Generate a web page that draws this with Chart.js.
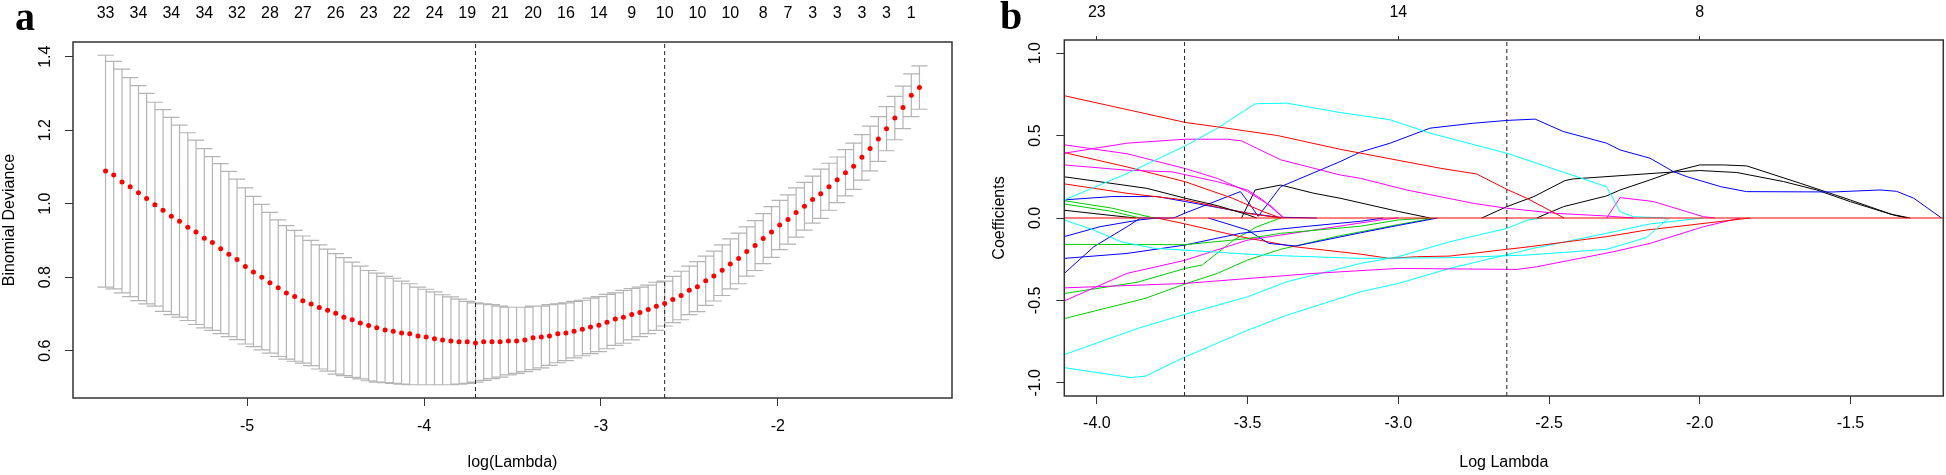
<!DOCTYPE html>
<html>
<head>
<meta charset="utf-8">
<script src="https://cdn.jsdelivr.net/npm/chart.js@4.4.1/dist/chart.umd.min.js"></script>
<style>
html, body { margin: 0; padding: 0; background: #fff; }
#wrap { position: relative; width: 1946px; height: 475px; overflow: hidden; }
canvas { position: absolute; top: 0; }
#cvA { left: 0; }
#cvB { left: 975px; }
.tag { position: absolute; font: bold 40px "Liberation Serif", serif; color: #000; line-height: 1; }
</style>
</head>
<body>
<div id="wrap">
  <canvas id="cvA" width="975" height="475"></canvas>
  <canvas id="cvB" width="971" height="475"></canvas>
  <div class="tag" style="left:15px;top:-3px">a</div>
  <div class="tag" style="left:1000px;top:-4px">b</div>
</div>
<script>
// ---- panel a: cross-validated binomial deviance ----
const logLambda = [
  -5.800,-5.754,-5.707,-5.661,-5.614,-5.568,-5.521,-5.475,-5.428,-5.382,
  -5.335,-5.289,-5.242,-5.196,-5.149,-5.103,-5.057,-5.010,-4.964,-4.917,
  -4.871,-4.824,-4.778,-4.731,-4.685,-4.638,-4.592,-4.545,-4.499,-4.453,
  -4.406,-4.360,-4.313,-4.267,-4.220,-4.174,-4.127,-4.081,-4.034,-3.988,
  -3.941,-3.895,-3.848,-3.802,-3.756,-3.709,-3.663,-3.616,-3.570,-3.523,
  -3.477,-3.430,-3.384,-3.337,-3.291,-3.244,-3.198,-3.152,-3.105,-3.059,
  -3.012,-2.966,-2.919,-2.873,-2.826,-2.780,-2.733,-2.687,-2.640,-2.594,
  -2.547,-2.501,-2.455,-2.408,-2.362,-2.315,-2.269,-2.222,-2.176,-2.129,
  -2.083,-2.036,-1.990,-1.943,-1.897,-1.850,-1.804,-1.758,-1.711,-1.665,
  -1.618,-1.572,-1.525,-1.479,-1.432,-1.386,-1.339,-1.293,-1.246,-1.200
];
const cvm = [
  1.089,1.078,1.059,1.046,1.030,1.014,0.997,0.982,0.966,0.952,
  0.936,0.923,0.906,0.894,0.877,0.862,0.848,0.829,0.814,0.800,
  0.785,0.771,0.757,0.747,0.736,0.727,0.717,0.710,0.702,0.691,
  0.684,0.675,0.668,0.662,0.656,0.653,0.648,0.646,0.640,0.637,
  0.632,0.629,0.626,0.624,0.624,0.621,0.624,0.624,0.624,0.626,
  0.626,0.629,0.635,0.637,0.640,0.646,0.648,0.653,0.658,0.664,
  0.669,0.677,0.686,0.691,0.698,0.704,0.712,0.721,0.728,0.739,
  0.750,0.764,0.774,0.790,0.803,0.819,0.836,0.851,0.870,0.886,
  0.905,0.923,0.942,0.957,0.976,0.993,1.011,1.027,1.046,1.065,
  1.084,1.102,1.126,1.150,1.176,1.204,1.233,1.262,1.295,1.316
];
const cvup = [
  1.404,1.387,1.366,1.343,1.321,1.300,1.276,1.256,1.235,1.214,
  1.193,1.173,1.150,1.128,1.109,1.088,1.067,1.043,1.020,0.998,
  0.976,0.956,0.940,0.927,0.912,0.900,0.888,0.876,0.864,0.853,
  0.841,0.830,0.818,0.811,0.802,0.797,0.789,0.782,0.773,0.767,
  0.760,0.752,0.746,0.740,0.734,0.730,0.727,0.725,0.721,0.718,
  0.718,0.718,0.721,0.721,0.725,0.727,0.730,0.734,0.737,0.743,
  0.747,0.753,0.757,0.764,0.769,0.773,0.778,0.786,0.789,0.802,
  0.816,0.830,0.842,0.857,0.871,0.888,0.904,0.920,0.937,0.954,
  0.973,0.992,1.009,1.024,1.043,1.058,1.075,1.094,1.110,1.127,
  1.147,1.165,1.188,1.211,1.237,1.264,1.292,1.320,1.353,1.375
];
const cvlo = [
  0.773,0.768,0.757,0.747,0.736,0.727,0.721,0.707,0.698,0.691,
  0.682,0.671,0.662,0.655,0.646,0.638,0.630,0.618,0.611,0.602,
  0.593,0.584,0.577,0.571,0.566,0.559,0.550,0.544,0.536,0.532,
  0.527,0.523,0.518,0.514,0.513,0.511,0.509,0.507,0.507,0.507,
  0.507,0.507,0.507,0.509,0.511,0.514,0.519,0.524,0.528,0.534,
  0.538,0.543,0.548,0.553,0.560,0.567,0.573,0.580,0.586,0.592,
  0.597,0.605,0.614,0.620,0.629,0.638,0.646,0.655,0.667,0.676,
  0.684,0.698,0.706,0.723,0.735,0.750,0.768,0.782,0.803,0.818,
  0.837,0.854,0.875,0.890,0.909,0.928,0.947,0.960,0.982,1.003,
  1.021,1.039,1.064,1.089,1.115,1.144,1.174,1.204,1.237,1.257
];
// non-zero counts printed along the top
const nzAt = [-5.800,-5.614,-5.428,-5.242,-5.057,-4.871,-4.685,-4.499,-4.313,-4.127,-3.941,-3.756,-3.570,
  -3.384,-3.198,-3.012,-2.826,-2.640,-2.455,-2.269,-2.083,-1.943,-1.804,-1.665,-1.525,-1.386,-1.246];
const nzLabels = ['33','34','34','34','32','28','27','26','23','22','24','19','21',
  '20','16','14','9','10','10','10','8','7','3','3','3','3','1'];
const lambdaMin = -3.709;
const lambda1se = -2.640;
const devTicks = [0.6, 0.8, 1.0, 1.2, 1.4];
const devTickLabels = ['0.6', '0.8', '1.0', '1.2', '1.4'];
const logTicksA = [-5, -4, -3, -2];
const logTickLabelsA = ['-5', '-4', '-3', '-2'];

// ---- panel b: coefficient paths, [log lambda, coefficient] knots ----
const coefTicks = [-1, -0.5, 0, 0.5, 1];
const coefTickLabels = ['-1.0', '-0.5', '0.0', '0.5', '1.0'];
const logTicksB = [-4, -3.5, -3, -2.5, -2, -1.5];
const logTickLabelsB = ['-4.0', '-3.5', '-3.0', '-2.5', '-2.0', '-1.5'];
const dfAt = [-4, -3, -2];
const dfLabels = ['23', '14', '8'];

const pRed1 = [[-4.108,0.742],[-3.707,0.580],[-3.60,0.553],[-3.40,0.500],[-3.193,0.417],[-3.00,0.350],[-2.861,0.302],[-2.740,0.267],[-2.640,0.174],[-2.574,0.120],[-2.450,0]];
const pCyan1 = [[-4.108,0.109],[-3.90,0.27],[-3.707,0.437],[-3.60,0.545],[-3.475,0.693],[-3.37,0.697],[-3.193,0.64],[-3.027,0.596],[-2.895,0.515],[-2.64,0.393],[-2.508,0.312],[-2.309,0.19],[-2.265,0.039],[-2.22,0.008],[-2.11,0]];
const pMagA = [[-4.108,0.393],[-3.90,0.454],[-3.707,0.478],[-3.569,0.478],[-3.52,0.468],[-3.39,0.353],[-3.193,0.261],[-3.126,0.241],[-2.972,0.17],[-2.751,0.089],[-2.64,0.059],[-2.475,0.028],[-2.309,0.012],[-2.22,0]];
const pMagB = [[-4.108,0.444],[-3.90,0.39],[-3.707,0.30],[-3.60,0.24],[-3.50,0.16],[-3.42,0.07],[-3.38,0]];
const pMagC = [[-4.108,0.322],[-3.90,0.29],[-3.75,0.28],[-3.60,0.22],[-3.50,0.17],[-3.45,0.11],[-3.38,0]];
const pRed2 = [[-4.108,0.397],[-3.90,0.31],[-3.707,0.22],[-3.55,0.12],[-3.45,0.04],[-3.39,0]];
const pBlack1 = [[-4.108,0.25],[-3.834,0.18],[-3.707,0.12],[-3.60,0.075],[-3.50,0.02],[-3.47,0]];
const pRed3 = [[-4.108,0.207],[-3.90,0.15],[-3.707,0.109],[-3.50,0.028],[-3.39,0]];
const pBlue1 = [[-4.108,0.11],[-3.95,0.13],[-3.80,0.13],[-3.707,0.10],[-3.50,0.03],[-3.40,0.005],[-3.27,0]];
const pGreen1 = [[-4.108,0.105],[-3.95,0.06],[-3.81,0]];
const pGreen2 = [[-4.108,0.085],[-3.95,0.04],[-3.856,0]];
const pBlack2 = [[-4.108,0.047],[-3.95,0.015],[-3.87,0]];
const pCyan2 = [[-4.108,-0.012],[-4.01,-0.073],[-3.92,-0.144],[-3.81,-0.184],[-3.707,-0.195],[-3.45,-0.225],[-3.126,-0.245],[-2.829,-0.241],[-2.574,-0.225],[-2.309,-0.19],[-2.176,-0.118],[-2.11,-0.012],[-2.10,0]];
const pBlue2 = [[-4.108,-0.113],[-3.99,-0.053],[-3.86,-0.012],[-3.80,0]];
const pGreen3 = [[-4.108,-0.16],[-3.707,-0.162],[-3.50,-0.125],[-3.39,-0.093],[-3.126,-0.05],[-3.00,-0.012],[-2.89,0]];
const pBlue3 = [[-4.108,-0.245],[-3.90,-0.215],[-3.707,-0.164],[-3.524,-0.093],[-3.30,-0.05],[-3.126,-0.02],[-3.05,0]];
const pBlue4 = [[-4.108,-0.336],[-4.01,-0.174],[-3.90,-0.053],[-3.855,0],[-3.745,0],[-3.707,0.03],[-3.524,0.16],[-3.495,0.09],[-3.465,0.01],[-3.39,0.19],[-3.193,0.342],[-3.126,0.40],[-3.027,0.454],[-2.895,0.545],[-2.751,0.575],[-2.64,0.592],[-2.546,0.60],[-2.453,0.525],[-2.309,0.454],[-2.2645,0.413],[-2.165,0.363],[-2.088,0.282],[-2.043,0.251],[-1.93,0.19],[-1.845,0.16],[-1.557,0.158],[-1.402,0.17],[-1.347,0.162],[-1.29,0.12],[-1.198,0]];
const pBlue6 = [[-3.63,0],[-3.50,-0.073],[-3.43,-0.154],[-3.34,-0.17],[-3.126,-0.09],[-3.00,-0.045],[-2.87,0]];
const pRed4 = [[-3.80,0],[-3.707,-0.036],[-3.524,-0.113],[-3.346,-0.174],[-3.126,-0.219],[-3.03,-0.245],[-2.94,-0.235],[-2.829,-0.231],[-2.64,-0.19],[-2.563,-0.174],[-2.309,-0.113],[-2.176,-0.073],[-1.833,0]];
const pMagD = [[-4.108,-0.424],[-3.707,-0.397],[-3.28,-0.336],[-3.00,-0.306],[-2.607,-0.312],[-2.541,-0.296],[-2.287,-0.205],[-2.165,-0.154],[-1.988,-0.053],[-1.866,0]];
const pMagE = [[-4.108,-0.503],[-3.90,-0.336],[-3.707,-0.256],[-3.50,-0.134],[-3.28,-0.073],[-3.06,-0.012],[-3.00,0]];
const pGreen4 = [[-4.108,-0.458],[-3.866,-0.39],[-3.707,-0.306],[-3.65,-0.285],[-3.546,-0.134],[-3.469,-0.053],[-3.39,0]];
const pGreen5 = [[-4.108,-0.61],[-3.84,-0.488],[-3.707,-0.40],[-3.60,-0.336],[-3.50,-0.255],[-3.39,-0.19],[-3.20,-0.11],[-3.00,-0.04],[-2.88,0]];
const pCyan3 = [[-4.108,-0.829],[-3.866,-0.671],[-3.707,-0.584],[-3.50,-0.478],[-3.37,-0.387],[-3.126,-0.276],[-3.00,-0.235],[-2.829,-0.144],[-2.64,-0.063],[-2.57,-0.012],[-2.52,0]];
const pCyan4 = [[-4.108,-0.908],[-3.889,-0.968],[-3.84,-0.96],[-3.707,-0.843],[-3.50,-0.681],[-3.37,-0.59],[-3.126,-0.448],[-3.00,-0.397],[-2.829,-0.306],[-2.552,-0.184],[-2.309,-0.093],[-2.165,-0.036],[-1.988,0]];
const pBlack3 = [[-3.52,0],[-3.475,0.17],[-3.39,0.20],[-3.28,0.15],[-3.193,0.12],[-3.00,0.04],[-2.895,0]];
const pBlack4 = [[-2.723,0],[-2.64,0.069],[-2.55,0.13],[-2.447,0.227],[-2.42,0.237],[-2.098,0.278],[-2.00,0.288],[-1.877,0.276],[-1.722,0.221],[-1.612,0.17],[-1.50,0.099],[-1.368,0.024],[-1.302,0]];
const pBlack5 = [[-2.541,0],[-2.452,0.069],[-2.309,0.134],[-2.264,0.17],[-2.165,0.231],[-2.087,0.282],[-2.00,0.322],[-1.921,0.322],[-1.844,0.316],[-1.667,0.211],[-1.50,0.109],[-1.357,0.018],[-1.313,0]];
const pMagF = [[-2.309,0],[-2.264,0.124],[-2.154,0.10],[-1.988,0.008],[-1.95,0]];
const pZero = [[-4.108,0],[-1.192,0]];

const BLACK = '#000000', RED = '#ff0000', GREEN = '#00cd00', BLUE = '#0000ff', CYAN = '#00ffff', MAGENTA = '#ff00ff';
const paths = [
  [pRed1, RED], [pCyan1, CYAN], [pMagA, MAGENTA], [pMagB, MAGENTA], [pMagC, MAGENTA],
  [pRed2, RED], [pBlack1, BLACK], [pRed3, RED], [pBlue1, BLUE], [pGreen1, GREEN],
  [pGreen2, GREEN], [pBlack2, BLACK], [pCyan2, CYAN], [pBlue2, BLUE], [pGreen3, GREEN],
  [pBlue3, BLUE], [pBlue4, BLUE], [pBlue6, BLUE], [pRed4, RED], [pMagD, MAGENTA],
  [pMagE, MAGENTA], [pGreen4, GREEN], [pGreen5, GREEN], [pCyan3, CYAN], [pCyan4, CYAN],
  [pBlack3, BLACK], [pBlack4, BLACK], [pBlack5, BLACK], [pMagF, MAGENTA]
];

Chart.defaults.font.family = '"Liberation Sans", Arial, sans-serif';
Chart.defaults.font.size = 16;
Chart.defaults.color = '#000';

const AXIS_COL = '#333333';
const capHalf = 0.046;

const frame = {
  id: 'frame',
  afterDraw(chart) {
    const { ctx, chartArea: a } = chart;
    ctx.save();
    ctx.strokeStyle = AXIS_COL;
    ctx.lineWidth = 1.5;
    ctx.strokeRect(a.left, a.top, a.right - a.left, a.bottom - a.top);
    ctx.restore();
  }
};

const errorBars = {
  id: 'errorBars',
  beforeDatasetsDraw(chart) {
    const { ctx, scales: { x, y } } = chart;
    ctx.save();
    ctx.strokeStyle = '#b4b4b4';
    ctx.lineWidth = 1.2;
    ctx.beginPath();
    logLambda.forEach((v, i) => {
      const px = x.getPixelForValue(v);
      const hw = x.getPixelForValue(v + capHalf) - px;
      const top = y.getPixelForValue(cvup[i]);
      const bot = y.getPixelForValue(cvlo[i]);
      ctx.moveTo(px, top); ctx.lineTo(px, bot);
      ctx.moveTo(px - hw, top); ctx.lineTo(px + hw, top);
      ctx.moveTo(px - hw, bot); ctx.lineTo(px + hw, bot);
    });
    ctx.stroke();
    ctx.restore();
  }
};

const fixedTicks = (values) => (scale) => { scale.ticks = values.map(v => ({ value: v })); };
const dashed = (xv, y0, y1) => ({
  data: [{ x: xv, y: y0 }, { x: xv, y: y1 }],
  showLine: true, pointRadius: 0, borderColor: '#222', borderWidth: 1, borderDash: [4, 3]
});

// ---- chart a ----
const xMinA = -5.984, xMaxA = -1.016, yMinA = 0.471, yMaxA = 1.440;
new Chart(document.getElementById('cvA'), {
  type: 'scatter',
  data: {
    datasets: [
      {
        data: logLambda.map((v, i) => ({ x: v, y: cvm[i] })),
        pointRadius: 2.5, pointBackgroundColor: '#ff0000', pointBorderWidth: 0, showLine: false
      },
      dashed(lambdaMin, yMinA, yMaxA),
      dashed(lambda1se, yMinA, yMaxA)
    ]
  },
  options: {
    responsive: false, animation: false, devicePixelRatio: 1, events: [],
    layout: { padding: { left: 0, right: 23, top: 0, bottom: 0 } },
    plugins: { legend: { display: false }, tooltip: { enabled: false } },
    scales: {
      x: {
        type: 'linear', position: 'bottom', min: xMinA, max: xMaxA,
        afterBuildTicks: fixedTicks(logTicksA),
        afterFit: s => { s.height = 77; },
        grid: { drawOnChartArea: false, drawTicks: true, tickLength: 8, color: AXIS_COL, tickColor: AXIS_COL },
        border: { display: false },
        ticks: { autoSkip: false, maxRotation: 0, padding: 11, callback: (v, i) => logTickLabelsA[i] },
        title: { display: true, text: 'log(Lambda)', padding: { top: 0, bottom: 2.4 } }
      },
      x2: {
        type: 'linear', position: 'top', min: xMinA, max: xMaxA,
        afterBuildTicks: fixedTicks(nzAt),
        afterFit: s => { s.height = 42; },
        grid: { display: false, drawTicks: false },
        border: { display: false },
        ticks: { autoSkip: false, maxRotation: 0, padding: 18.4, callback: (v, i) => nzLabels[i] }
      },
      y: {
        type: 'linear', position: 'left', min: yMinA, max: yMaxA,
        afterBuildTicks: fixedTicks(devTicks),
        afterFit: s => { s.width = 73; },
        grid: { drawOnChartArea: false, drawTicks: true, tickLength: 8, color: AXIS_COL, tickColor: AXIS_COL },
        border: { display: false },
        ticks: { minRotation: 90, maxRotation: 90, crossAlign: 'center', padding: 8.4, callback: (v, i) => devTickLabels[i] },
        title: { display: true, text: 'Binomial Deviance', padding: { top: 0, bottom: 0 } }
      }
    }
  },
  plugins: [errorBars, frame]
});

// ---- chart b ----
const xMinB = -4.108, xMaxB = -1.192, yMinB = -1.08, yMaxB = 1.08;
const pathSets = paths.map(([pts, col]) => ({
  data: pts.map(([x, y]) => ({ x, y })),
  showLine: true, pointRadius: 0, borderColor: col, borderWidth: 1, tension: 0
}));
new Chart(document.getElementById('cvB'), {
  type: 'scatter',
  data: {
    datasets: [
      { data: pZero.map(([x, y]) => ({ x, y })), showLine: true, pointRadius: 0, borderColor: RED, borderWidth: 1 },
      dashed(lambdaMin, yMinB, yMaxB),
      dashed(lambda1se, yMinB, yMaxB),
      ...pathSets
    ]
  },
  options: {
    responsive: false, animation: false, devicePixelRatio: 1, events: [],
    layout: { padding: { left: 0, right: 2.7, top: 0, bottom: 0 } },
    plugins: { legend: { display: false }, tooltip: { enabled: false } },
    scales: {
      x: {
        type: 'linear', position: 'bottom', min: xMinB, max: xMaxB,
        afterBuildTicks: fixedTicks(logTicksB),
        afterFit: s => { s.height = 79; },
        grid: { drawOnChartArea: false, drawTicks: true, tickLength: 8, color: AXIS_COL, tickColor: AXIS_COL },
        border: { display: false },
        ticks: { autoSkip: false, maxRotation: 0, padding: 10.4, callback: (v, i) => logTickLabelsB[i] },
        title: { display: true, text: 'Log Lambda', padding: { top: 0, bottom: 2.4 } }
      },
      x2: {
        type: 'linear', position: 'top', min: xMinB, max: xMaxB,
        afterBuildTicks: fixedTicks(dfAt),
        afterFit: s => { s.height = 40; },
        grid: { drawOnChartArea: false, drawTicks: true, tickLength: 4, color: AXIS_COL, tickColor: AXIS_COL },
        border: { display: false },
        ticks: { autoSkip: false, maxRotation: 0, padding: 14, callback: (v, i) => dfLabels[i] }
      },
      y: {
        type: 'linear', position: 'left', min: yMinB, max: yMaxB,
        afterBuildTicks: fixedTicks(coefTicks),
        afterFit: s => { s.width = 89.3; },
        grid: { drawOnChartArea: false, drawTicks: true, tickLength: 8, color: AXIS_COL, tickColor: AXIS_COL },
        border: { display: false },
        ticks: { minRotation: 90, maxRotation: 90, crossAlign: 'center', padding: 7.2, callback: (v, i) => coefTickLabels[i] },
        title: { display: true, text: 'Coefficients', padding: { top: 14.7, bottom: 0 } }
      }
    }
  },
  plugins: [frame]
});
</script>
</body>
</html>
